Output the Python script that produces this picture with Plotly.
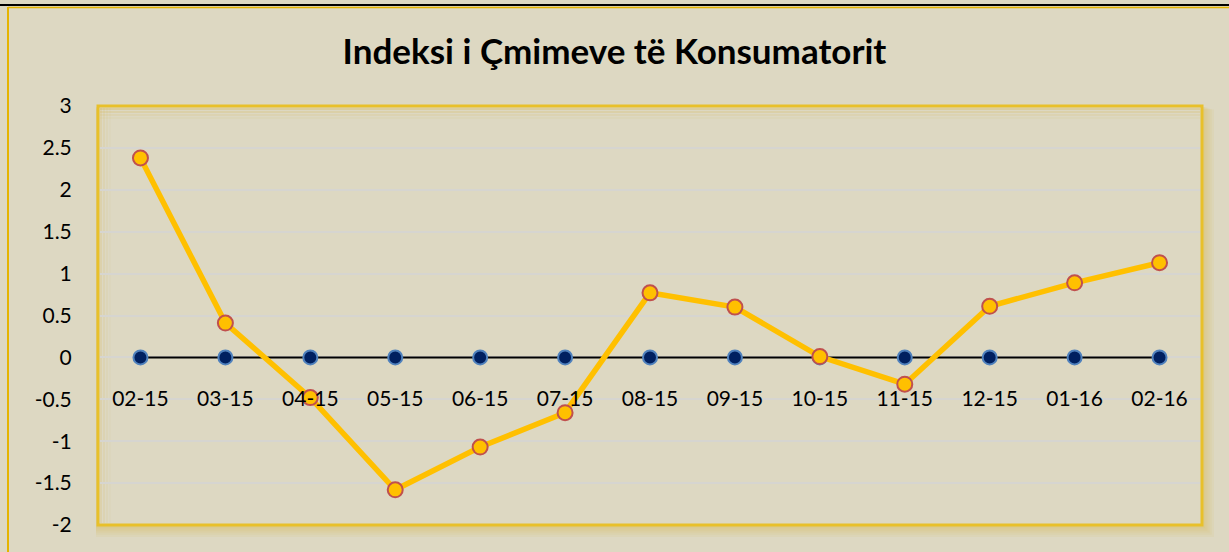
import plotly.graph_objects as go

categories = ["02-15", "03-15", "04-15", "05-15", "06-15", "07-15", "08-15",
              "09-15", "10-15", "11-15", "12-15", "01-16", "02-16"]
cpi_values = [2.38, 0.41, -0.48, -1.58, -1.07, -0.66, 0.77, 0.60, 0.01, -0.32, 0.61, 0.89, 1.13]
zero_values = [0] * len(categories)
y_tickvals = [3, 2.5, 2, 1.5, 1, 0.5, 0, -0.5, -1, -1.5, -2]
y_ticktext = ["3", "2.5", "2", "1.5", "1", "0.5", "0", "-0.5", "-1", "-1.5", "-2"]
title_text = "Indeksi i Çmimeve të Konsumatorit"

W, H = 1229, 552
L, R, T, B = 98, 1202, 106, 525
BG = "#DDD8C2"
GOLD = "#E8C02A"

def px(x):
    return (x - L) / (R - L)

def py(y):
    return (B - y) / (B - T)

xi = list(range(len(categories)))

fig = go.Figure()
fig.add_trace(go.Scatter(
    x=xi, y=zero_values, mode="lines+markers",
    line=dict(color="#000000", width=2),
    marker=dict(size=14, color="#002060", line=dict(color="#4F81BD", width=2)),
    showlegend=False, hoverinfo="skip"))
fig.add_trace(go.Scatter(
    x=xi, y=cpi_values, mode="lines+markers",
    line=dict(color="#FFC000", width=5.5),
    marker=dict(size=15, color="#FFC000", line=dict(color="#C0504D", width=2)),
    showlegend=False))

shapes = []
# glow / shadow around plot area
for i, op in enumerate([0.10, 0.10, 0.12, 0.14, 0.16]):
    d = 12 - i * 2.2
    shapes.append(dict(type="rect", xref="paper", yref="paper",
                       x0=px(L - 2), x1=px(R + d), y0=py(B + d), y1=py(T + d * 0.3),
                       line=dict(width=0), fillcolor="rgba(220,190,90,%.2f)" % op,
                       layer="below"))
# inner area fill to restore background
shapes.append(dict(type="rect", xref="paper", yref="paper",
                   x0=0, x1=1, y0=0, y1=1, line=dict(width=0),
                   fillcolor=BG, layer="below"))
# inner glow at top and left
for i, op in enumerate([0.35, 0.25, 0.15, 0.08]):
    shapes.append(dict(type="rect", xref="paper", yref="paper",
                       x0=px(L + 2), x1=px(R - 2), y0=py(T + 4 + i * 3), y1=py(T + 2 + i * 3),
                       line=dict(width=0), fillcolor="rgba(215,185,90,%.2f)" % op,
                       layer="below"))
    shapes.append(dict(type="rect", xref="paper", yref="paper",
                       x0=px(L + 2 + i * 3), x1=px(L + 4 + i * 3), y0=py(B - 2), y1=py(T + 2),
                       line=dict(width=0), fillcolor="rgba(215,185,90,%.2f)" % (op * 0.6),
                       layer="below"))
# plot border
shapes.append(dict(type="rect", xref="paper", yref="paper",
                   x0=0, x1=1, y0=0, y1=1,
                   line=dict(color=GOLD, width=3), layer="above"))
# outer chart border
shapes.append(dict(type="line", xref="paper", yref="paper",
                   x0=px(0), x1=px(W), y0=py(5), y1=py(5),
                   line=dict(color="#000000", width=2)))
shapes.append(dict(type="line", xref="paper", yref="paper",
                   x0=px(8), x1=px(W), y0=py(7.5), y1=py(7.5),
                   line=dict(color="#E5B400", width=1.5)))
shapes.append(dict(type="line", xref="paper", yref="paper",
                   x0=px(8), x1=px(8), y0=py(7), y1=py(H),
                   line=dict(color="#E5B400", width=2)))

fig.update_layout(
    width=W, height=H,
    margin=dict(l=L, r=W - R, t=T, b=H - B),
    paper_bgcolor=BG, plot_bgcolor=BG,
    font=dict(family="Lato, Carlito, sans-serif", size=21, color="#000000"),
    title=dict(text="<b>" + title_text + "</b>", x=0.5, xanchor="center",
               y=1 - 52 / H, yanchor="middle",
               font=dict(family="Lato, sans-serif", size=35, color="#000000")),
    shapes=shapes,
    xaxis=dict(range=[-0.5, len(categories) - 0.5], tickvals=xi, ticktext=categories,
               showgrid=False, zeroline=False, showline=False,
               anchor="free", position=2 / 5,
               ticks="outside", ticklen=22, tickcolor="rgba(0,0,0,0)",
               tickfont=dict(size=21)),
    yaxis=dict(range=[-2, 3], tickvals=y_tickvals, ticktext=y_ticktext,
               showgrid=True, gridcolor="#D6D5D0", gridwidth=2,
               zeroline=False, showline=False,
               ticks="outside", ticklen=21, tickcolor="rgba(0,0,0,0)",
               tickfont=dict(size=21)),
)

fig.write_html("out.html", config={"displayModeBar": False},
               post_script="document.body.style.margin='0';document.body.style.background='%s';" % BG)
